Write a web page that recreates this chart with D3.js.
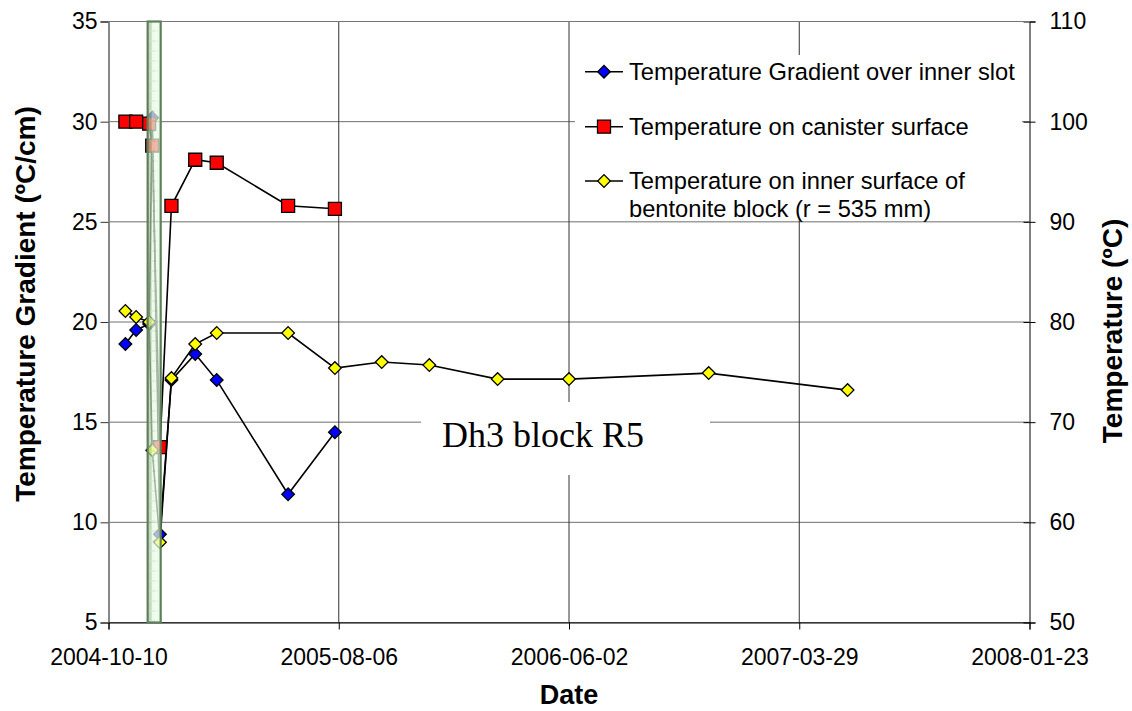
<!DOCTYPE html>
<html>
<head>
<meta charset="utf-8">
<script src="https://cdn.jsdelivr.net/npm/d3@7"></script>
<style>
  body { margin: 0; background: #fff; }
  svg { display: block; font-family: "Liberation Sans", Arial, sans-serif; }
</style>
</head>
<body>
<svg id="chart" width="1132" height="711"></svg>
<script>
// chart data

const dateTicks = ["2004-10-10", "2005-08-06", "2006-06-02", "2007-03-29", "2008-01-23"];
const gradientTicks = [5, 10, 15, 20, 25, 30, 35];
const tempTicks = [50, 60, 70, 80, 90, 100, 110];

// measurement dates shared by the slot gradient and canister series
const slotDates = ["2004-11-01", "2004-11-15", "2004-12-02", "2004-12-06", "2004-12-16",
  "2004-12-31", "2005-01-31", "2005-02-28", "2005-06-01", "2005-08-01"];
const gradientValues = [18.9, 19.6, 19.9, 30.2, 9.4, 17.1, 18.4, 17.1, 11.4, 14.5];
const canisterValues = [100.0, 100.0, 99.8, 97.6, 67.5, 91.6, 96.2, 95.9, 91.6, 91.3];

const bentoniteDates = ["2004-11-01", "2004-11-15", "2004-12-02", "2004-12-06", "2004-12-16",
  "2004-12-31", "2005-01-31", "2005-02-28", "2005-06-01", "2005-08-01", "2005-10-01",
  "2005-12-02", "2006-03-01", "2006-06-02", "2006-12-01", "2007-05-31"];
const bentoniteValues = [81.1, 80.5, 80.0, 67.2, 58.0, 74.4, 77.8, 78.9, 78.9, 75.4, 76.0,
  75.7, 74.3, 74.3, 74.9, 73.2];

// shaded period (green bar)
const shadeDates = ["2004-11-30", "2004-12-17"];

const legendLabels = [
  ["Temperature Gradient over inner slot"],
  ["Temperature on canister surface"],
  ["Temperature on inner surface of", "bentonite block (r = 535 mm)"]
];
const noteText = "Dh3 block R5";

const parse = d3.utcParse("%Y-%m-%d");

var svg = d3.select("#chart");
const m = { left: 108.5, right: 1029.5, top: 21.5, bottom: 622.5 };

const x = d3.scaleUtc()
  .domain([parse(dateTicks[0]), parse(dateTicks[dateTicks.length - 1])])
  .range([m.left, m.right]);
const yLeft = d3.scaleLinear().domain([5, 35]).range([m.bottom, m.top]);
const yRight = d3.scaleLinear().domain([50, 110]).range([m.bottom, m.top]);

// gridlines
svg.append("g")
  .selectAll("line")
  .data(gradientTicks)
  .join("line")
  .attr("x1", m.left).attr("x2", m.right)
  .attr("y1", (d) => yLeft(d)).attr("y2", (d) => yLeft(d))
  .attr("stroke", "#6e6e6e")
  .attr("stroke-width", 1);

svg.append("g")
  .selectAll("line")
  .data(dateTicks.slice(1, -1))
  .join("line")
  .attr("x1", (d) => x(parse(d))).attr("x2", (d) => x(parse(d)))
  .attr("y1", m.top).attr("y2", m.bottom)
  .attr("stroke", "#333")
  .attr("stroke-width", 1);

// annotation box hides the grid behind it
svg.append("rect")
  .attr("x", 421).attr("y", 402)
  .attr("width", 289).attr("height", 73)
  .attr("fill", "#fff");
svg.append("text")
  .attr("x", 442).attr("y", 447)
  .style("font-family", "'Liberation Serif', 'Times New Roman', serif")
  .style("font-size", "36px")
  .attr("fill", "#000")
  .text(noteText);

// legend background
svg.append("rect")
  .attr("x", 575).attr("y", 55)
  .attr("width", 447).attr("height", 163)
  .attr("fill", "#fff");

// axes
const tickFont = "23px";

const leftAxis = svg.append("g")
  .attr("transform", "translate(" + m.left + ",0)")
  .call(d3.axisLeft(yLeft).tickValues(gradientTicks).tickSize(8).tickPadding(3));
leftAxis.select(".domain").attr("stroke", "#888").attr("stroke-width", 2);
leftAxis.selectAll(".tick line").attr("stroke", "#333");

const rightAxis = svg.append("g")
  .attr("transform", "translate(" + m.right + ",0)")
  .call(d3.axisRight(yRight).tickValues(tempTicks).tickSize(6).tickPadding(14));
rightAxis.selectAll(".tick")
  .append("line")
  .attr("x1", -6).attr("x2", 0)
  .attr("stroke", "#000");

const bottomAxis = svg.append("g")
  .attr("transform", "translate(0," + m.bottom + ")")
  .call(d3.axisBottom(x)
    .tickValues(dateTicks.map(parse))
    .tickFormat(d3.utcFormat("%Y-%m-%d"))
    .tickSize(7)
    .tickPadding(19));

[leftAxis, rightAxis, bottomAxis].forEach((g) => {
  g.attr("font-family", null).attr("font-size", null);
  g.selectAll("text").style("font-size", tickFont).attr("fill", "#000");
});

// top frame line
svg.append("line")
  .attr("x1", m.left).attr("x2", m.right)
  .attr("y1", m.top).attr("y2", m.top)
  .attr("stroke", "#777");

// axis titles
svg.append("text")
  .attr("transform", "translate(35,304) rotate(-90)")
  .attr("text-anchor", "middle")
  .style("font-size", "28px").style("font-weight", "bold")
  .text("Temperature Gradient (ºC/cm)");

svg.append("text")
  .attr("transform", "translate(1122,331) rotate(-90)")
  .attr("text-anchor", "middle")
  .style("font-size", "28px").style("font-weight", "bold")
  .text("Temperature (ºC)");

svg.append("text")
  .attr("x", (m.left + m.right) / 2).attr("y", 704)
  .attr("text-anchor", "middle")
  .style("font-size", "27px").style("font-weight", "bold")
  .text("Date");

// series
const series = [
  { dates: slotDates, values: gradientValues, y: yLeft, color: "#0000ff", shape: "diamond" },
  { dates: slotDates, values: canisterValues, y: yRight, color: "#ff0000", shape: "square" },
  { dates: bentoniteDates, values: bentoniteValues, y: yRight, color: "#ffff00", shape: "diamond" }
];

const diamond = d3.symbol(d3.symbolSquare, 80)();
const square = d3.symbol(d3.symbolSquare, 169)();

series.forEach((s) => {
  const pts = s.dates.map((d, i) => ({ date: parse(d), value: s.values[i] }));
  const line = d3.line().x((d) => x(d.date)).y((d) => s.y(d.value));

  svg.append("path")
    .datum(pts)
    .attr("d", line)
    .attr("fill", "none")
    .attr("stroke", "#000")
    .attr("stroke-width", 1.6);

  svg.append("g")
    .selectAll("path")
    .data(pts)
    .join("path")
    .attr("d", s.shape === "square" ? square : diamond)
    .attr("transform", (d) => "translate(" + x(d.date) + "," + s.y(d.value) + ")" +
      (s.shape === "diamond" ? " rotate(45)" : ""))
    .attr("fill", s.color)
    .attr("stroke", "#000")
    .attr("stroke-width", 1.3);
});

// green bar on top, semi transparent
const defs = svg.append("defs");
const pat = defs.append("pattern")
  .attr("id", "barfill")
  .attr("patternUnits", "userSpaceOnUse")
  .attr("x", x(parse(shadeDates[0]))).attr("y", m.top)
  .attr("width", 40).attr("height", 10);
pat.append("rect").attr("width", 40).attr("height", 10).attr("fill", "#e3fbe0");
pat.append("rect").attr("x", 0).attr("width", 4).attr("height", 10).attr("fill", "#a9c9a5");
pat.append("line")
  .attr("x1", 2).attr("x2", 10).attr("y1", 9.5).attr("y2", 9.5)
  .attr("stroke", "#c3dcbf");
pat.append("line")
  .attr("x1", 8.5).attr("x2", 8.5).attr("y1", 0).attr("y2", 10)
  .attr("stroke", "#f6fff4");

svg.append("rect")
  .attr("x", x(parse(shadeDates[0])))
  .attr("y", m.top)
  .attr("width", x(parse(shadeDates[1])) - x(parse(shadeDates[0])))
  .attr("height", m.bottom - m.top)
  .attr("fill", "url(#barfill)")
  .attr("fill-opacity", 0.72)
  .attr("stroke", "#5f7f5c")
  .attr("stroke-width", 2.2);

// legend entries
const legendRows = [71.7, 126.7, 181];
const legend = svg.append("g");
legendLabels.forEach((lines, i) => {
  const s = series[i];
  const cy = legendRows[i];
  legend.append("line")
    .attr("x1", 585).attr("x2", 623)
    .attr("y1", cy).attr("y2", cy)
    .attr("stroke", "#000").attr("stroke-width", 1.6);
  legend.append("path")
    .attr("d", s.shape === "square" ? square : diamond)
    .attr("transform", "translate(604," + cy + ")" + (s.shape === "diamond" ? " rotate(45)" : ""))
    .attr("fill", s.color)
    .attr("stroke", "#000")
    .attr("stroke-width", 1.3);
  const t = legend.append("text")
    .attr("x", 629).attr("y", cy + 8.4)
    .style("font-size", "23.7px");
  lines.forEach((ln, j) => {
    t.append("tspan").attr("x", 629).attr("dy", j === 0 ? 0 : 27.3).text(ln);
  });
});
</script>
</body>
</html>
